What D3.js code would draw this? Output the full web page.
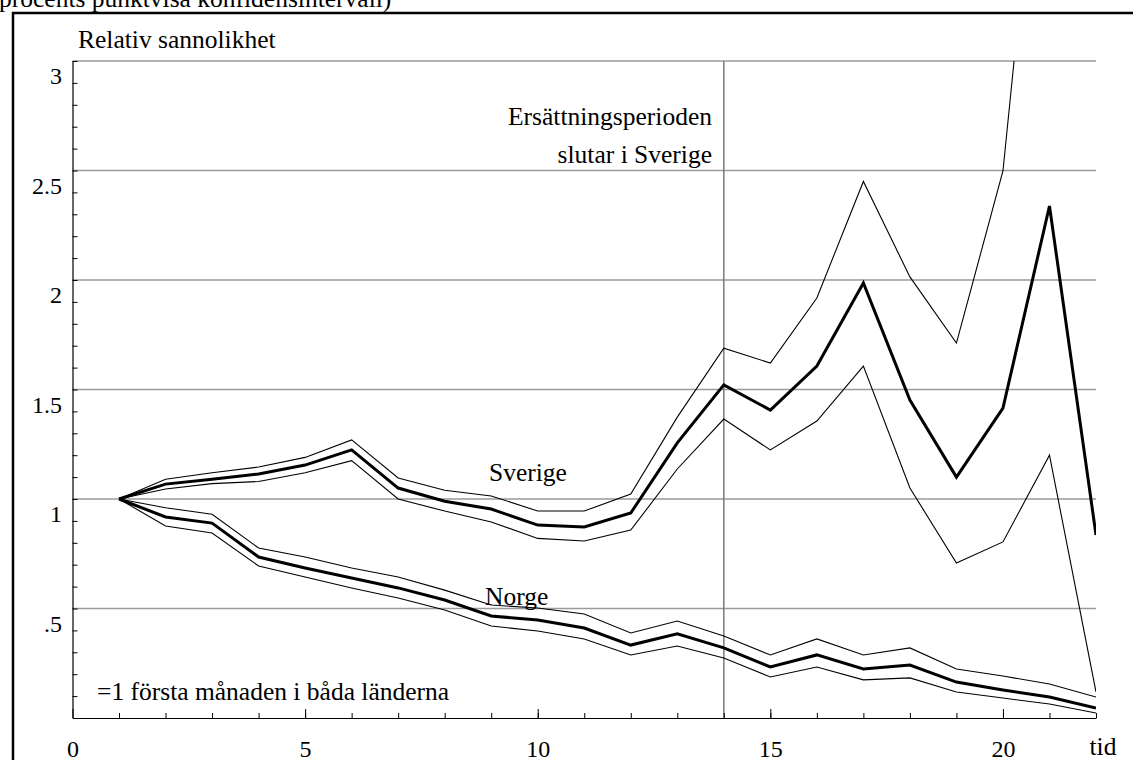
<!DOCTYPE html>
<html>
<head>
<meta charset="utf-8">
<script src="https://cdn.jsdelivr.net/npm/d3@7"></script>
<style>
  html, body { margin: 0; padding: 0; background: #fff; overflow: hidden; }
  svg { display: block; font-family: "Liberation Serif", "Times New Roman", serif; }
</style>
</head>
<body>
<svg id="chart" width="1133" height="760"></svg>
<script>
/**
 * @fileoverview Relativ sannolikhet, Sverige och Norge, med konfidensband.
 */

// Months (tid).
var months = [1, 2, 3, 4, 5, 6, 7, 8, 9, 10, 11, 12, 13, 14, 15, 16, 17, 18,
              19, 20, 21, 22];

// Sverige: estimate and pointwise interval.
var sverige = [1.0, 1.068, 1.09, 1.114, 1.155, 1.224, 1.05, 0.99, 0.954,
               0.881, 0.872, 0.936, 1.256, 1.521, 1.406, 1.607, 1.986, 1.452,
               1.10, 1.415, 2.338, 0.836];
var sverigeUpper = [1.0, 1.09, 1.12, 1.146, 1.19, 1.27, 1.096, 1.04, 1.014,
                    0.945, 0.945, 1.023, 1.374, 1.689, 1.621, 1.918, 2.45,
                    2.014, 1.712, 2.498, 4.6, 4.2];
var sverigeLower = [1.0, 1.046, 1.07, 1.08, 1.12, 1.175, 1.0, 0.945, 0.895,
                    0.82, 0.808, 0.858, 1.137, 1.365, 1.224, 1.356, 1.607,
                    1.05, 0.708, 0.804, 1.20, 0.119];

// Norge: estimate and pointwise interval.
var norge = [1.0, 0.918, 0.89, 0.735, 0.685, 0.639, 0.594, 0.539, 0.466,
             0.447, 0.411, 0.333, 0.384, 0.32, 0.233, 0.288, 0.224, 0.242,
             0.164, 0.128, 0.096, 0.046];
var norgeUpper = [1.0, 0.96, 0.93, 0.776, 0.735, 0.685, 0.644, 0.584, 0.516,
                  0.502, 0.475, 0.388, 0.443, 0.374, 0.288, 0.361, 0.288, 0.32,
                  0.224, 0.192, 0.155, 0.096];
var norgeLower = [1.0, 0.877, 0.845, 0.694, 0.644, 0.594, 0.548, 0.493, 0.42,
                  0.397, 0.361, 0.288, 0.329, 0.274, 0.187, 0.233, 0.174,
                  0.183, 0.119, 0.091, 0.064, 0.023];

// Axis ticks and labels.
var xLabelTicks = [0, 5, 10, 15, 20];
var yGridTicks = [0.5, 1, 1.5, 2, 2.5, 3];
var yLabels = ['.5', '1', '1.5', '2', '2.5', '3'];
var yMinorTicks = d3.range(1, 31).map(function(d) { return d / 10; });
var markerMonth = 14;

(function() {
  var svg = d3.select('#chart');
  var plotLeft = 72.5, plotRight = 1096, plotTop = 61, plotBottom = 718;
  var fontSize = 25.5;

  var x = d3.scaleLinear().domain([0, 22]).range([plotLeft, plotRight]);
  var y = d3.scaleLinear().domain([0, 3]).range([plotBottom, plotTop]);

  // Outer frame, cut by the page edges.
  svg.append('rect').
      attr('x', 13).attr('y', 13).
      attr('width', 1200).attr('height', 800).
      attr('fill', 'none').attr('stroke', '#000').attr('stroke-width', 2.5);

  // Caption line, mostly above the page.
  svg.append('text').
      attr('x', -1).attr('y', 7).
      attr('font-size', fontSize).
      text('procents punktvisa konfidensintervall)');

  svg.append('defs').append('clipPath').attr('id', 'plot-clip').
      append('rect').
      attr('x', plotLeft).attr('y', plotTop).
      attr('width', plotRight - plotLeft).
      attr('height', plotBottom - plotTop);

  // Horizontal grid lines.
  svg.append('g').selectAll('line').
      data(yGridTicks).join('line').
      attr('x1', plotLeft).attr('x2', plotRight).
      attr('y1', function(d) { return y(d); }).
      attr('y2', function(d) { return y(d); }).
      attr('stroke', '#9a9a9a').attr('stroke-width', 1.3);

  // Vertical marker where the Swedish benefit period ends.
  svg.append('line').
      attr('x1', x(markerMonth)).attr('x2', x(markerMonth)).
      attr('y1', plotTop).attr('y2', plotBottom).
      attr('stroke', '#7a7a7a').attr('stroke-width', 1.5);

  // Y axis: minor ticks pointing inwards.
  var yAxis = svg.append('g').
      attr('transform', 'translate(' + plotLeft + ',0)').
      call(d3.axisLeft(y).tickValues(yMinorTicks).tickSize(-5).
          tickSizeOuter(0).tickFormat(''));
  yAxis.select('.domain').attr('stroke', '#000').attr('stroke-width', 1.2);
  yAxis.selectAll('.tick line').attr('stroke', '#000');

  // Y labels sit a little below their grid line.
  svg.append('g').selectAll('text').
      data(yGridTicks).join('text').
      attr('x', 62).
      attr('y', function(d) { return y(d) + 23; }).
      attr('text-anchor', 'end').
      attr('font-size', 24).
      text(function(d, i) { return yLabels[i]; });

  // X axis: minor ticks every month, longer ones every fifth.
  var xAxis = svg.append('g').
      attr('transform', 'translate(0,' + plotBottom + ')').
      call(d3.axisBottom(x).tickValues(months).tickSize(-5).
          tickSizeOuter(0).tickFormat(''));
  xAxis.select('.domain').attr('stroke', '#000').attr('stroke-width', 1.2);
  xAxis.selectAll('.tick line').attr('stroke', '#000');

  var xMajor = svg.append('g').
      attr('transform', 'translate(0,' + plotBottom + ')').
      call(d3.axisBottom(x).tickValues(xLabelTicks).tickSize(-9).
          tickSizeOuter(0).tickFormat(d3.format('d')));
  xMajor.select('.domain').remove();
  xMajor.selectAll('.tick line').attr('stroke', '#000');
  xMajor.selectAll('.tick text').
      attr('y', 39).attr('dy', 0).
      attr('font-size', 24).
      attr('font-family', '"Liberation Serif", serif').
      attr('fill', '#000');

  // Series lines.
  var lineGen = d3.line().
      x(function(d, i) { return x(months[i]); }).
      y(function(d) { return y(d); });

  var series = [
    {values: sverigeUpper, width: 1.1},
    {values: sverigeLower, width: 1.1},
    {values: sverige, width: 3},
    {values: norgeUpper, width: 1.1},
    {values: norgeLower, width: 1.1},
    {values: norge, width: 3}
  ];

  svg.append('g').attr('clip-path', 'url(#plot-clip)').
      selectAll('path').
      data(series).join('path').
      attr('d', function(d) { return lineGen(d.values); }).
      attr('fill', 'none').
      attr('stroke', '#000').
      attr('stroke-linejoin', 'miter').
      attr('stroke-width', function(d) { return d.width; });

  // Text annotations.
  var notes = [
    {text: 'Relativ sannolikhet', x: 78, y: 48, anchor: 'start'},
    {text: 'Ersättningsperioden', x: 712, y: 125, anchor: 'end'},
    {text: 'slutar i Sverige', x: 712, y: 163, anchor: 'end'},
    {text: 'Sverige', x: 489, y: 481, anchor: 'start'},
    {text: 'Norge', x: 485, y: 605, anchor: 'start'},
    {text: '=1 första månaden i båda länderna', x: 97, y: 700,
     anchor: 'start'},
    {text: 'tid', x: 1103, y: 755, anchor: 'middle'}
  ];

  svg.append('g').selectAll('text').
      data(notes).join('text').
      attr('x', function(d) { return d.x; }).
      attr('y', function(d) { return d.y; }).
      attr('text-anchor', function(d) { return d.anchor; }).
      attr('font-size', fontSize).
      text(function(d) { return d.text; });
})();
</script>
</body>
</html>
